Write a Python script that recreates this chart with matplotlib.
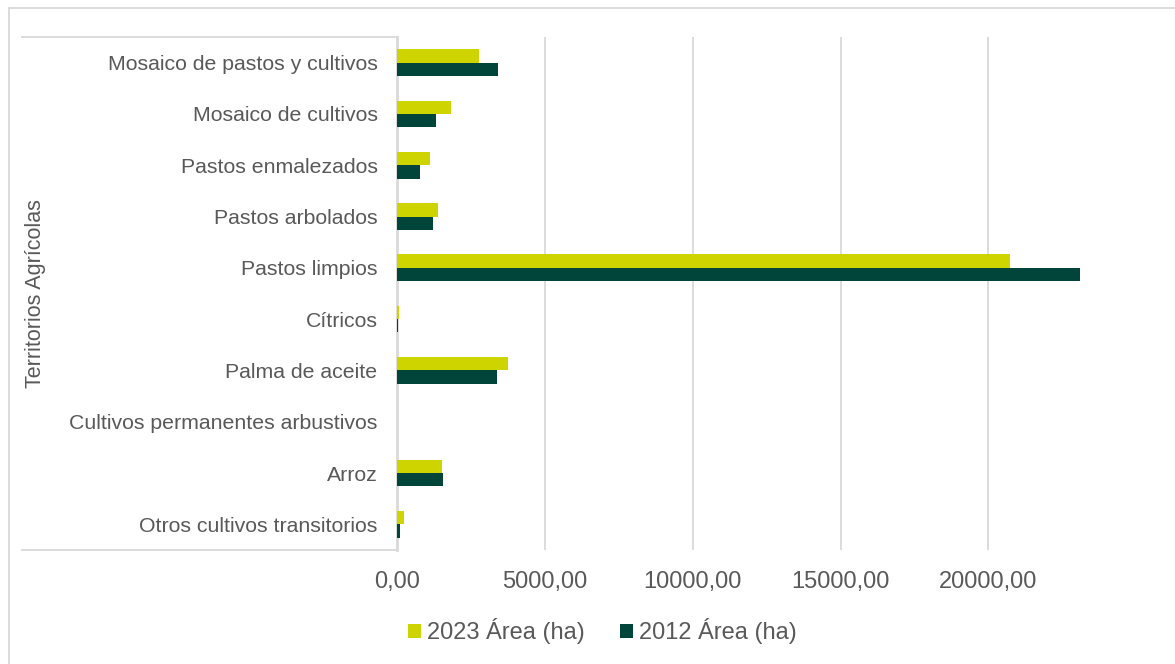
import matplotlib.pyplot as plt
import numpy as np
from matplotlib.lines import Line2D

plt.rcParams['font.family'] = ['Liberation Sans', 'DejaVu Sans']

categorias = ['Mosaico de pastos y cultivos', 'Mosaico de cultivos', 'Pastos enmalezados',
              'Pastos arbolados', 'Pastos limpios', 'Cítricos', 'Palma de aceite',
              'Cultivos permanentes arbustivos', 'Arroz', 'Otros cultivos transitorios']
area_2023 = [2786, 1827, 1117, 1388, 20745, 80, 3767, 0, 1523, 225]
area_2012 = [3428, 1320, 768, 1230, 23113, 40, 3395, 0, 1568, 110]

color_2023 = '#cdd400'
color_2012 = '#01443a'
gris_texto = '#595959'
gris_linea = '#d9d9d9'

fig = plt.figure(figsize=(11.75, 6.64), dpi=100)
ax = fig.add_axes([0.3379, 0.1717, 0.6291, 0.7726])

y = np.arange(len(categorias))
alto = 0.26
ax.barh(y - alto / 2, area_2023, height=alto, color=color_2023, label='2023 Área (ha)', zorder=3)
ax.barh(y + alto / 2, area_2012, height=alto, color=color_2012, label='2012 Área (ha)', zorder=3)

ax.set_ylim(len(categorias) - 0.5, -0.5)
ax.set_xlim(0, 25000)
ax.set_xticks([0, 5000, 10000, 15000, 20000])
ax.set_xticklabels(['0,00', '5000,00', '10000,00', '15000,00', '20000,00'],
                   fontsize=17, color=gris_texto)
ax.set_yticks(y)
ax.set_yticklabels(categorias, fontsize=15.3, color=gris_texto)
ax.tick_params(axis='both', length=0)
ax.tick_params(axis='x', pad=15)
ax.tick_params(axis='y', pad=14)
ax.grid(axis='x', color=gris_linea, linewidth=1.3, zorder=0)
for lado in ['top', 'right', 'bottom']:
    ax.spines[lado].set_visible(False)
ax.spines['left'].set_color(gris_linea)
ax.spines['left'].set_linewidth(2)
ax.spines['left'].set_zorder(2)

fig.text(0.0306, 0.5585, 'Territorios Agrícolas', rotation=90, fontsize=15.5,
         color=gris_texto, ha='center', va='center')

# bordes del area de etiquetas y del grafico
fig.add_artist(Line2D([22 / 1175, 397 / 1175], [1 - 37 / 664, 1 - 37 / 664],
                      color=gris_linea, linewidth=1.3))
fig.add_artist(Line2D([22 / 1175, 397 / 1175], [1 - 550 / 664, 1 - 550 / 664],
                      color=gris_linea, linewidth=1.3))
fig.add_artist(Line2D([9 / 1175, 1.0], [1 - 8 / 664, 1 - 8 / 664],
                      color=gris_linea, linewidth=1.3))
fig.add_artist(Line2D([9 / 1175, 9 / 1175], [1 - 8 / 664, 0],
                      color=gris_linea, linewidth=1.3))

leg = fig.legend(loc='center', bbox_to_anchor=(0.5125, 1 - 631 / 664), ncol=2, frameon=False,
                 fontsize=17, handlelength=0.55, handleheight=0.55, handletextpad=0.25,
                 columnspacing=1.5, labelcolor=gris_texto)

fig.savefig('out.png', dpi=100, facecolor='white')
